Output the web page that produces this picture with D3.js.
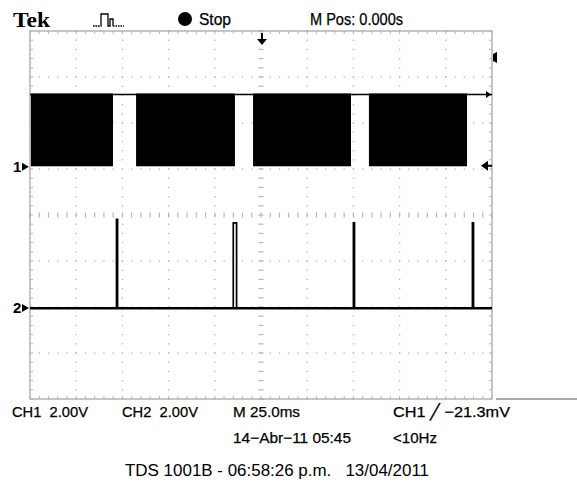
<!DOCTYPE html>
<html><head><meta charset="utf-8">
<script src="https://cdn.jsdelivr.net/npm/d3@7"></script>
<style>
html,body{margin:0;padding:0;background:#fff;}
svg{display:block;}
.nar{font-family:"Liberation Sans Narrow","Liberation Sans",Arial,sans-serif;}
</style></head>
<body>
<script>
// ---- data ----
const timeDomainMs = [0, 250];           // 10 div x 25.0 ms
const divDomain = [-4, 4];               // 8 vertical divisions
const voltsPerDiv = [2.0, 2.0];          // CH1, CH2
const ch1OffsetDiv = 1.07;
const ch2OffsetDiv = -2.02;
const ch1HighVolts = 3.1;
const ch1BurstStartMs = [0.5, 57.4, 120.7, 183.4];
const ch1BurstEndMs   = [44.9, 110.9, 173.7, 236.5];
const ch2PulseStartMs = [46.8, 110.0, 175.0, 239.4];
const ch2PulseEndMs   = [47.4, 111.8, 175.6, 240.0];
const ch2PulseVolts   = [3.85, 3.7, 3.7, 3.7];
const headerLabels = ["Tek", "Stop", "M Pos: 0.000s"];
const footerRow1 = ["CH1  2.00V", "CH2  2.00V", "M 25.0ms", "CH1 \u2571 \u221221.3mV"];
const footerRow2 = ["14\u2212Abr\u221211 05:45", "<10Hz"];
const footerRow3 = "TDS 1001B - 06:58:26 p.m.   13/04/2011";

// ---- layout ----
const W = 577, H = 482;
const L = 30, R = 492, T = 31, B = 399;
const svg = d3.select("body").append("svg").attr("width", W).attr("height", H);

const x = d3.scaleLinear().domain(timeDomainMs).range([L, R]);
const yDiv = d3.scaleLinear().domain(divDomain).range([B, T]);
const xDiv = d3.scaleLinear().domain([0, 10]).range([L, R]);
const y1 = v => yDiv(ch1OffsetDiv + v / voltsPerDiv[0]);
const y2 = v => yDiv(ch2OffsetDiv + v / voltsPerDiv[1]);

const grid = svg.append("g");
const gridCol = "#b4b4b4";
// dotted grid
const minorX = d3.range(0, 50.001, 1).map(i => i / 5);
const minorY = d3.range(-20, 20.001, 1).map(i => i / 5);
for (let d = 1; d < 10; d++) {
  if (d === 5) continue;
  minorY.forEach(m => {
    grid.append("rect").attr("x", xDiv(d) - 0.6).attr("y", yDiv(m) - 0.6)
      .attr("width", 1.3).attr("height", 1.3).attr("fill", gridCol);
  });
}
for (let d = -3; d <= 3; d++) {
  if (d === 0) continue;
  minorX.forEach(m => {
    grid.append("rect").attr("x", xDiv(m) - 0.6).attr("y", yDiv(d) - 0.6)
      .attr("width", 1.3).attr("height", 1.3).attr("fill", gridCol);
  });
}
// center cross with ticks
minorY.forEach(m => {
  grid.append("line").attr("x1", xDiv(5) - 2.5).attr("x2", xDiv(5) + 2.5)
    .attr("y1", yDiv(m)).attr("y2", yDiv(m)).attr("stroke", gridCol).attr("stroke-width", 1.2);
});
minorX.forEach(m => {
  grid.append("line").attr("y1", yDiv(0) - 2.5).attr("y2", yDiv(0) + 2.5)
    .attr("x1", xDiv(m)).attr("x2", xDiv(m)).attr("stroke", gridCol).attr("stroke-width", 1.2);
});
// frame
grid.append("rect").attr("x", L).attr("y", T).attr("width", R - L).attr("height", B - T)
  .attr("fill", "none").attr("stroke", "#a0a0a0").attr("stroke-width", 1.2);
minorX.forEach(m => {
  grid.append("line").attr("x1", xDiv(m)).attr("x2", xDiv(m)).attr("y1", T).attr("y2", T + 3)
    .attr("stroke", gridCol);
  grid.append("line").attr("x1", xDiv(m)).attr("x2", xDiv(m)).attr("y1", B).attr("y2", B - 3)
    .attr("stroke", gridCol);
});
minorY.forEach(m => {
  grid.append("line").attr("x1", L).attr("x2", L + 3).attr("y1", yDiv(m)).attr("y2", yDiv(m))
    .attr("stroke", gridCol);
  grid.append("line").attr("x1", R).attr("x2", R - 3).attr("y1", yDiv(m)).attr("y2", yDiv(m))
    .attr("stroke", gridCol);
});
// menu separator line at right
svg.append("line").attr("x1", 496).attr("x2", W).attr("y1", B).attr("y2", B)
  .attr("stroke", "#555").attr("stroke-width", 1.2);

// ---- CH1 ----
const c1 = svg.append("g");
c1.append("line").attr("x1", x(0)).attr("x2", x(250)).attr("y1", y1(ch1HighVolts)).attr("y2", y1(ch1HighVolts))
  .attr("stroke", "#000").attr("stroke-width", 1.6);
ch1BurstStartMs.forEach((s, i) => {
  c1.append("rect").attr("x", x(s)).attr("y", y1(ch1HighVolts) - 1)
    .attr("width", x(ch1BurstEndMs[i]) - x(s)).attr("height", y1(0) - y1(ch1HighVolts) + 1.5)
    .attr("fill", "#000");
});

// ---- CH2 ----
let p = d3.path();
p.moveTo(x(0), y2(0));
ch2PulseStartMs.forEach((s, i) => {
  p.lineTo(x(s), y2(0));
  p.lineTo(x(s), y2(ch2PulseVolts[i]));
  p.lineTo(x(ch2PulseEndMs[i]), y2(ch2PulseVolts[i]));
  p.lineTo(x(ch2PulseEndMs[i]), y2(0));
});
p.lineTo(x(250), y2(0));
svg.append("path").attr("d", p.toString()).attr("fill", "none").attr("stroke", "#000")
  .attr("stroke-width", 1.7);
svg.append("line").attr("x1", x(0)).attr("x2", x(250)).attr("y1", y2(0) + 0.3).attr("y2", y2(0) + 0.3)
  .attr("stroke", "#000").attr("stroke-width", 2.6);

// ---- markers ----
const mk = svg.append("g");
function chanMarker(label, yy) {
  mk.append("text").attr("class", "nar").attr("x", 13).attr("y", yy + 5.5)
    .attr("font-size", 15).attr("font-weight", "bold").text(label);
  mk.append("path").attr("d", `M22,${yy - 4} L29,${yy} L22,${yy + 4} Z`).attr("fill", "#000");
}
chanMarker("1", y1(0) + 1);
chanMarker("2", y2(0));
// trigger position arrow (top)
const tx = xDiv(5) + 1;
mk.append("path").attr("d", `M${tx - 1},33 V39 H${tx - 5} L${tx},45 L${tx + 5},39 H${tx + 1} V33 Z`).attr("fill", "#000");
// trigger level arrow (right)
const ty = y1(0);
mk.append("path").attr("d", `M481,${ty} L488,${ty - 5} V${ty - 1} H492 V${ty + 1} H488 V${ty + 5} Z`).attr("fill", "#000");
// small marker top right
mk.append("path").attr("d", `M493,54 L497,52 V63 L493,61 Z`).attr("fill", "#000");
// trace end arrow ch1
mk.append("path").attr("d", `M486,${y1(ch1HighVolts) - 3.5} L491,${y1(ch1HighVolts)} L486,${y1(ch1HighVolts) + 3.5} Z`).attr("fill", "#000");

// ---- header ----
svg.append("text").attr("x", 13).attr("y", 27).attr("font-family", "Liberation Serif, serif")
  .attr("font-weight", "bold").attr("font-size", 21).attr("textLength", 37)
  .attr("lengthAdjust", "spacingAndGlyphs").text(headerLabels[0]);
svg.append("path").attr("d", "M93,26 H101 V14 H108 V26 H110 V19 H113 V26")
  .attr("fill", "none").attr("stroke", "#000").attr("stroke-width", 1.3);
svg.append("path").attr("d", "M113,26 H124").attr("stroke", "#000").attr("stroke-width", 1.3)
  .attr("stroke-dasharray", "1.5,1");
svg.append("path").attr("d", "M93,26 H101").attr("stroke", "#fff").attr("stroke-width", 1.4)
  .attr("stroke-dasharray", "0,1.5,1,0");
svg.append("circle").attr("cx", 185).attr("cy", 19).attr("r", 7).attr("fill", "#000");
svg.append("text").attr("class", "nar").attr("x", 199).attr("y", 25).attr("font-size", 16)
  .attr("stroke", "#000").attr("stroke-width", 0.25)
  .attr("textLength", 32).attr("lengthAdjust", "spacingAndGlyphs").text(headerLabels[1]);
svg.append("text").attr("class", "nar").attr("x", 310).attr("y", 25).attr("font-size", 16)
  .attr("stroke", "#000").attr("stroke-width", 0.25)
  .attr("textLength", 93).attr("lengthAdjust", "spacingAndGlyphs").text(headerLabels[2]);

// ---- footer ----
const f1x = [12, 122, 233, 393], f1w = [76, 76, 67, 117];
footerRow1.forEach((t, i) => {
  svg.append("text").attr("class", "nar").attr("x", f1x[i]).attr("y", 417).attr("font-size", 15)
    .attr("stroke", "#000").attr("stroke-width", 0.25)
    .attr("xml:space", "preserve").style("white-space", "pre")
    .attr("textLength", f1w[i]).attr("lengthAdjust", "spacingAndGlyphs").text(t);
});
const f2x = [233, 393], f2w = [118, 44];
footerRow2.forEach((t, i) => {
  svg.append("text").attr("class", "nar").attr("x", f2x[i]).attr("y", 443).attr("font-size", 15)
    .attr("stroke", "#000").attr("stroke-width", 0.25)
    .attr("textLength", f2w[i]).attr("lengthAdjust", "spacingAndGlyphs").text(t);
});
svg.append("text").attr("x", 125).attr("y", 476).attr("font-family", "Liberation Sans, Arial, sans-serif")
  .attr("font-size", 16).style("white-space", "pre")
  .attr("textLength", 304).attr("lengthAdjust", "spacingAndGlyphs").text(footerRow3);
</script>
</body></html>
